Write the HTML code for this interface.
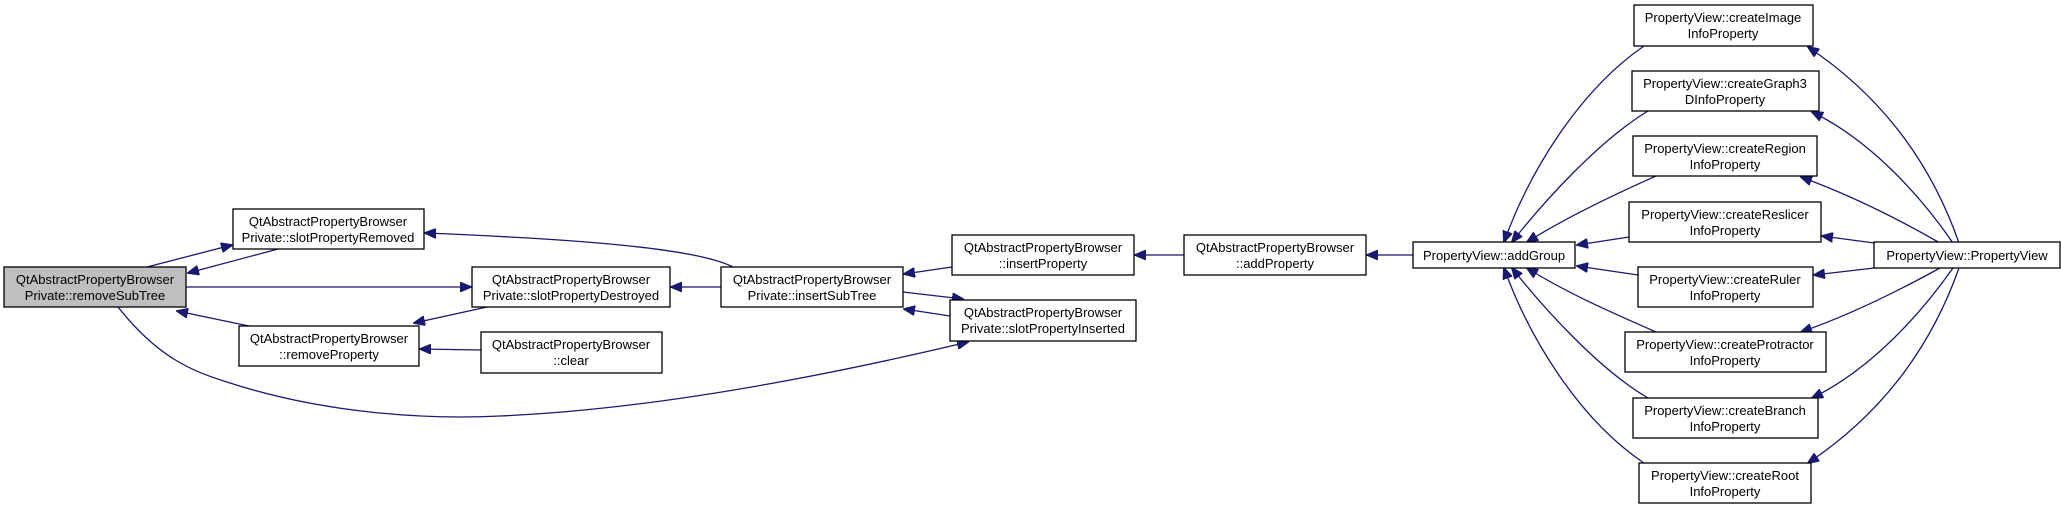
<!DOCTYPE html>
<html><head><meta charset="utf-8"><style>
html,body{margin:0;padding:0;background:#fff;}
svg{display:block;}
text{font-family:"Liberation Sans",Arial,sans-serif;font-size:13px;fill:#000;text-anchor:middle;}
.n{fill:#fff;stroke:#000;stroke-width:1.3;}
.e{fill:none;stroke:#191970;stroke-width:1.3;}
</style></head><body>
<svg width="2061" height="509" viewBox="0 0 2061 509" xmlns="http://www.w3.org/2000/svg">
<defs>
<marker id="a" markerWidth="12" markerHeight="10" refX="11" refY="5" orient="auto" markerUnits="userSpaceOnUse">
<path d="M0,0 L12,5 L0,10 Z" fill="#191970" stroke="#191970"/>
</marker>
</defs>

<!-- edges -->
<g class="e" marker-end="url(#a)">
<path d="M147,267 L232,245"/>
<path d="M278,249 L188,273"/>
<path d="M186,287 L471,287"/>
<path d="M249,326 L177,311"/>
<path d="M487,307 L414,323"/>
<path d="M481,350 L420,349"/>
<path d="M118,307 C160,360 195,372 230,383 C320,412 420,420 500,416 C640,410 800,382 968,342"/>
<path d="M733,267 C700,250 600,240 425,233"/>
<path d="M721,287 L671,287"/>
<path d="M952,267 L904,274"/>
<path d="M903,292 L963,299"/>
<path d="M950,316 L904,309"/>
<path d="M1184,255 L1135,255"/>
<path d="M1413,255 L1367,255"/>

<path d="M1644,46 C1580,90 1530,170 1504,242"/>
<path d="M1648,111 C1600,140 1545,200 1512,242"/>
<path d="M1656,176 C1620,192 1570,215 1527,242"/>
<path d="M1629,237 L1577,245"/>
<path d="M1638,275 L1577,266"/>
<path d="M1656,332 C1620,316 1570,295 1527,268"/>
<path d="M1648,398 C1600,370 1545,310 1512,268"/>
<path d="M1644,463 C1580,420 1530,340 1504,268"/>

<path d="M1959,243 C1930,160 1880,95 1808,47"/>
<path d="M1953,243 C1920,195 1870,140 1812,112"/>
<path d="M1940,243 C1900,220 1850,195 1801,177"/>
<path d="M1874,243 L1822,236"/>
<path d="M1874,268 L1814,275"/>
<path d="M1940,268 C1900,290 1850,315 1801,332"/>
<path d="M1953,268 C1920,315 1870,370 1812,398"/>
<path d="M1959,268 C1930,350 1880,415 1808,463"/>
</g>

<!-- nodes -->
<rect x="4" y="267" width="182" height="40" fill="#bfbfbf" stroke="#000" stroke-width="1.3"/>
<text x="95" y="284">QtAbstractPropertyBrowser</text><text x="95" y="300">Private::removeSubTree</text>

<rect class="n" x="233" y="209" width="191" height="40"/>
<text x="328" y="226">QtAbstractPropertyBrowser</text><text x="328" y="242">Private::slotPropertyRemoved</text>

<rect class="n" x="472" y="267" width="198" height="40"/>
<text x="571" y="284">QtAbstractPropertyBrowser</text><text x="571" y="300">Private::slotPropertyDestroyed</text>

<rect class="n" x="239" y="326" width="180" height="40"/>
<text x="329" y="343">QtAbstractPropertyBrowser</text><text x="329" y="359">::removeProperty</text>

<rect class="n" x="481" y="332" width="181" height="41"/>
<text x="571" y="349">QtAbstractPropertyBrowser</text><text x="571" y="365">::clear</text>

<rect class="n" x="721" y="267" width="182" height="40"/>
<text x="812" y="284">QtAbstractPropertyBrowser</text><text x="812" y="300">Private::insertSubTree</text>

<rect class="n" x="952" y="235" width="182" height="40"/>
<text x="1043" y="252">QtAbstractPropertyBrowser</text><text x="1043" y="268">::insertProperty</text>

<rect class="n" x="950" y="300" width="186" height="41"/>
<text x="1043" y="317">QtAbstractPropertyBrowser</text><text x="1043" y="333">Private::slotPropertyInserted</text>

<rect class="n" x="1184" y="235" width="182" height="40"/>
<text x="1275" y="252">QtAbstractPropertyBrowser</text><text x="1275" y="268">::addProperty</text>

<rect class="n" x="1413" y="242" width="162" height="26"/>
<text x="1494" y="260">PropertyView::addGroup</text>

<rect class="n" x="1874" y="242" width="186" height="26"/>
<text x="1967" y="260">PropertyView::PropertyView</text>

<rect class="n" x="1634" y="5" width="179" height="41"/>
<text x="1723" y="22">PropertyView::createImage</text><text x="1723" y="38">InfoProperty</text>

<rect class="n" x="1632" y="71" width="187" height="40"/>
<text x="1725" y="88">PropertyView::createGraph3</text><text x="1725" y="104">DInfoProperty</text>

<rect class="n" x="1633" y="136" width="184" height="40"/>
<text x="1725" y="153">PropertyView::createRegion</text><text x="1725" y="169">InfoProperty</text>

<rect class="n" x="1629" y="202" width="192" height="40"/>
<text x="1725" y="219">PropertyView::createReslicer</text><text x="1725" y="235">InfoProperty</text>

<rect class="n" x="1638" y="267" width="175" height="40"/>
<text x="1725" y="284">PropertyView::createRuler</text><text x="1725" y="300">InfoProperty</text>

<rect class="n" x="1625" y="332" width="201" height="40"/>
<text x="1725" y="349">PropertyView::createProtractor</text><text x="1725" y="365">InfoProperty</text>

<rect class="n" x="1633" y="398" width="185" height="40"/>
<text x="1725" y="415">PropertyView::createBranch</text><text x="1725" y="431">InfoProperty</text>

<rect class="n" x="1639" y="463" width="172" height="40"/>
<text x="1725" y="480">PropertyView::createRoot</text><text x="1725" y="496">InfoProperty</text>
</svg>
</body></html>
